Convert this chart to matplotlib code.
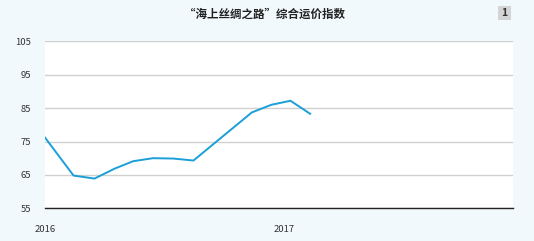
import pandas as pd
import matplotlib.pyplot as plt
import matplotlib.dates as mdates
from matplotlib.patches import Rectangle

plt.rcParams['font.family'] = ['Noto Sans CJK SC', 'DejaVu Sans']

dates = pd.to_datetime(['2016-01-01', '2016-02-14', '2016-03-17', '2016-04-17',
                        '2016-05-15', '2016-06-14', '2016-07-15', '2016-08-15',
                        '2016-11-12', '2016-12-12', '2017-01-10', '2017-02-09'])
index = [76.3, 64.8, 63.9, 66.9, 69.1, 70.0, 69.9, 69.3, 83.7, 86.0, 87.2, 83.3]
yticks = [55, 65, 75, 85, 95, 105]
title = '“海上丝绸之路”综合运价指数'

bg = '#f2f9fd'
fig = plt.figure(figsize=(5.34, 2.41), dpi=100, facecolor=bg)
ax = fig.add_axes([0.0837, 0.1357, 0.8763, 0.6929])
ax.set_facecolor('white')

ax.plot(dates, index, color='#1a9fd9', linewidth=1.4)

ax.set_ylim(55, 105)
ax.set_yticks(yticks)
ax.set_xlim(pd.Timestamp('2016-01-01'), pd.Timestamp('2017-12-15'))
ax.xaxis.set_major_locator(mdates.YearLocator())
ax.xaxis.set_major_formatter(mdates.DateFormatter('%Y'))

ax.grid(axis='y', color='#d0d0d0', linewidth=1)
ax.set_axisbelow(True)
for s in ['top', 'left', 'right']:
    ax.spines[s].set_visible(False)
ax.spines['bottom'].set_color('#222222')
ax.spines['bottom'].set_linewidth(1.0)
ax.tick_params(length=0, labelsize=6.8, colors='#333333')
ax.tick_params(axis='x', pad=12)
ax.tick_params(axis='y', pad=10)

fig.text(0.495, 0.94, title, ha='center', va='center', fontsize=8.3,
         fontweight='bold', color='#222222')
fig.patches.append(Rectangle((0.933, 0.918), 0.024, 0.057, transform=fig.transFigure,
                             facecolor='#d4d4d4', edgecolor='none'))
fig.text(0.945, 0.946, '1', ha='center', va='center', fontsize=7.5,
         fontweight='bold', color='#333333')

fig.savefig('out.png', dpi=100, facecolor=bg)
